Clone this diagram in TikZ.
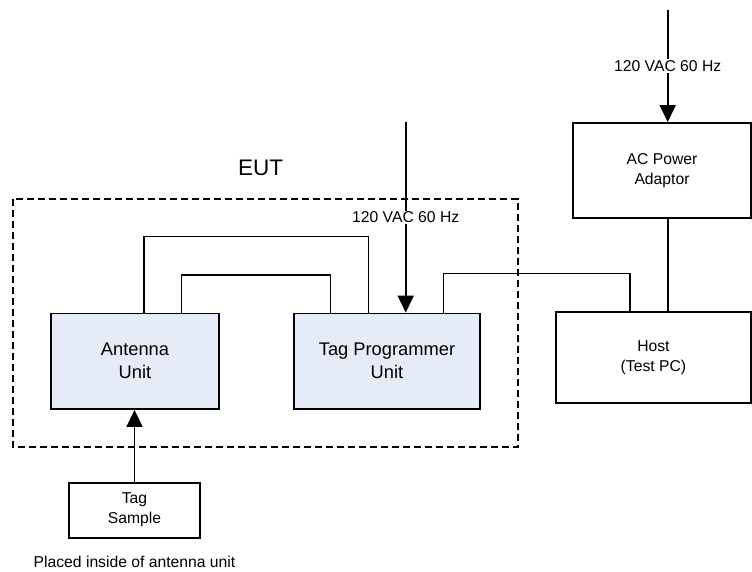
\documentclass[tikz,border=0pt]{standalone}
\usepackage{fontspec}
\setmainfont{Liberation Sans}
\usepackage{tikz}
\usetikzlibrary{arrows.meta,positioning}

\definecolor{unitfill}{RGB}{230,236,247}

\begin{document}
\begin{tikzpicture}[
  x=1pt, y=1pt,
  >={Triangle[width=16pt,length=17pt]},
  box/.style={draw, line width=1.8pt, fill=#1, align=center,
              inner sep=0pt},
  box/.default=white,
  small/.style={font=\fontsize{15.7}{20}\selectfont},
  big/.style={font=\fontsize{18.3}{23}\selectfont},
  wire/.style={line width=1.6pt},
  feed/.style={->, line width=1.6pt},
  lbl/.style={small, fill=white, inner sep=1pt},
]
\useasboundingbox (0,0) rectangle (752,-572);

%% ─── EUT boundary ───────────────────────────────────────────────────────────
\draw[line width=1.5pt, dash pattern=on 7pt off 4pt] (12.8,-199) rectangle (518,-447);
\node[font=\fontsize{22.5}{26}\selectfont] (eut) at (260.5,-168) {EUT};

%% ─── Units ──────────────────────────────────────────────────────────────────
\node[box=unitfill, big, minimum width=168pt, minimum height=95.5pt]
  (ant) at (135,-361.25) {Antenna\\Unit};
\node[box=unitfill, big, minimum width=186pt, minimum height=95.5pt]
  (tpu) at (387,-361.25) {Tag Programmer\\Unit};
\node[box, small, minimum width=195pt, minimum height=91pt, align=center]
  (host) at (653.4,-357.4) {Host\\(Test PC)};
\node[box, small, minimum width=178pt, minimum height=95pt]
  (acp) at (662,-170.5) {AC Power\\Adaptor};
\node[box, small, minimum width=131pt, minimum height=55pt]
  (tag) at (134.5,-510.2) {Tag\\Sample};
\node[small, below=14pt of tag] (note) {Placed inside of antenna unit};

%% ─── Cables between units ───────────────────────────────────────────────────
\draw[wire] ([xshift=9pt]ant.north) -- ++(0,76) -| ([xshift=-18.5pt]tpu.north);
\draw[wire] ([xshift=46.5pt]ant.north) -- ++(0,37.8) -| ([xshift=-56.4pt]tpu.north);
\draw[wire] ([xshift=56.5pt]tpu.north) -- ++(0,39) -| ([xshift=-23.4pt]host.north);
\draw[wire] ([xshift=5.7pt]acp.south) -- ([xshift=5.7pt]acp.south |- host.north);

%% ─── Mains feeds ────────────────────────────────────────────────────────────
\coordinate (mainsA) at (667.7,-10);
\coordinate (mainsB) at (405.7,-122);
\draw[feed] (mainsA) -- (mainsA |- acp.north)
  node[lbl, pos=0.5] {120 VAC 60 Hz};
\draw[feed] (mainsB) -- (mainsB |- tpu.north)
  node[lbl, pos=0.5] {120 VAC 60 Hz};

%% tag into antenna
\draw[feed] (tag.north) -- (tag.north |- ant.south);

\end{tikzpicture}
\end{document}
